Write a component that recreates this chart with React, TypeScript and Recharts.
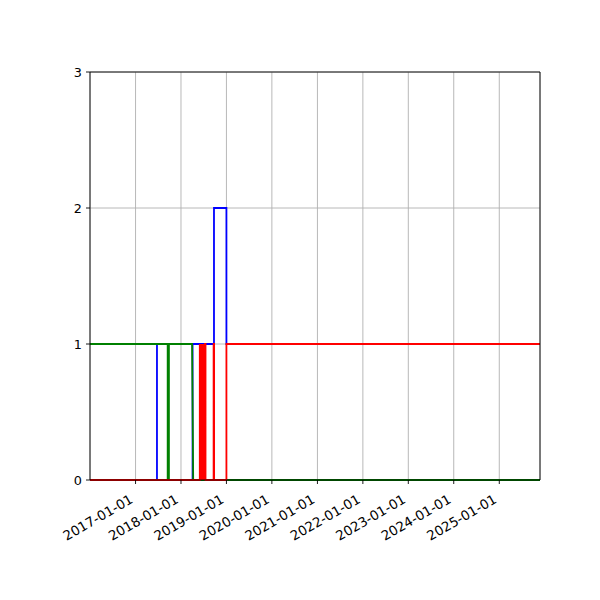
import React from "react";
import {
  LineChart,
  Line,
  XAxis,
  YAxis,
  CartesianGrid,
  ReferenceLine,
} from "recharts";

const xStart = "2016-01-01";
const xEnd = "2025-11-24";
const xTickDates = [
  "2017-01-01",
  "2018-01-01",
  "2019-01-01",
  "2020-01-01",
  "2021-01-01",
  "2022-01-01",
  "2023-01-01",
  "2024-01-01",
  "2025-01-01",
];
const yTicks = [0, 1, 2, 3];

const blueDates = [
  "2016-01-01", "2017-06-22", "2017-06-22", "2018-04-04", "2018-04-04",
  "2018-09-23", "2018-09-23", "2019-01-01", "2019-01-01", "2025-11-24",
];
const blueValues = [1, 1, 0, 0, 1, 1, 2, 2, 1, 1];

const greenDates = [
  "2016-01-01", "2017-09-16", "2017-09-16", "2017-09-26", "2017-09-26",
  "2018-03-31", "2018-04-09", "2025-11-24",
];
const greenValues = [1, 1, 0, 0, 1, 1, 0, 0];

const redDates = [
  "2016-01-01", "2018-06-01", "2018-06-01", "2018-06-04", "2018-06-07",
  "2018-06-10", "2018-06-13", "2018-06-16", "2018-06-19", "2018-06-22",
  "2018-06-25", "2018-06-28", "2018-07-01", "2018-07-04", "2018-07-07",
  "2018-07-10", "2018-07-13", "2018-07-17", "2018-07-17", "2018-09-20",
  "2018-09-20", "2018-09-24", "2018-09-24", "2019-01-01", "2019-01-01",
  "2025-11-24",
];
const redValues = [
  0, 0, 1, 0, 1, 0, 1, 0, 1, 0, 1, 0, 1, 0, 1, 0, 1, 1, 0, 0, 1, 1, 0, 0, 1, 1,
];

const toTs = (d: string) => Date.parse(d + "T00:00:00Z");
const build = (dates: string[], values: number[]) =>
  dates.map((d, i) => ({ t: toTs(d), v: values[i] }));

const blueData = build(blueDates, blueValues);
const greenData = build(greenDates, greenValues);
const redData = build(redDates, redValues);

const FONT = "DejaVu Sans";
const FS_Y = 12.8;
const FS_X = 13.4;
const LW = 1.8;

const fmt = (v: number) => new Date(v).toISOString().slice(0, 10);

const XTick = (props: any) => {
  const { x, y, payload } = props;
  return (
    <g transform={`translate(${x - 1.6},${y + 18})`}>
      <text
        textAnchor="end"
        transform="rotate(-30)"
        fontFamily={FONT}
        fontSize={FS_X}
        fill="#000"
      >
        {fmt(payload.value)}
      </text>
    </g>
  );
};

export default function App() {
  const domainX: [number, number] = [toTs(xStart), toTs(xEnd)];
  return (
    <div style={{ width: 600, height: 600 }}>
      <LineChart
        width={600}
        height={600}
        margin={{ top: 64, right: 68, bottom: 0, left: 0 }}
      >
        <CartesianGrid stroke="#b0b0b0" strokeWidth={0.9} />
        <XAxis
          dataKey="t"
          type="number"
          domain={domainX}
          allowDataOverflow
          ticks={xTickDates.map(toTs)}
          height={128}
          tickSize={4}
          tickMargin={0}
          tick={<XTick />}
          axisLine={{ stroke: "#000", strokeWidth: 0.9 }}
          tickLine={{ stroke: "#000", strokeWidth: 0.9 }}
          interval={0}
        />
        <YAxis
          type="number"
          domain={[0, 3]}
          ticks={yTicks}
          width={82}
          tickSize={4}
          tickMargin={4}
          interval={0}
          axisLine={{ stroke: "#000", strokeWidth: 0.9 }}
          tickLine={{ stroke: "#000", strokeWidth: 0.9 }}
          tick={{ fill: "#000", fontFamily: FONT, fontSize: FS_Y }}
        />
        <Line
          data={blueData}
          dataKey="v"
          type="linear"
          stroke="#0000ff"
          strokeWidth={LW}
          dot={false}
          isAnimationActive={false}
        />
        <Line
          data={greenData}
          dataKey="v"
          type="linear"
          stroke="#008000"
          strokeWidth={LW}
          dot={false}
          isAnimationActive={false}
        />
        <Line
          data={redData}
          dataKey="v"
          type="linear"
          stroke="#ff0000"
          strokeWidth={LW}
          dot={false}
          isAnimationActive={false}
        />
        <ReferenceLine y={3} stroke="#000" strokeWidth={0.9} />
        <ReferenceLine x={domainX[1]} stroke="#000" strokeWidth={0.9} />
      </LineChart>
    </div>
  );
}
